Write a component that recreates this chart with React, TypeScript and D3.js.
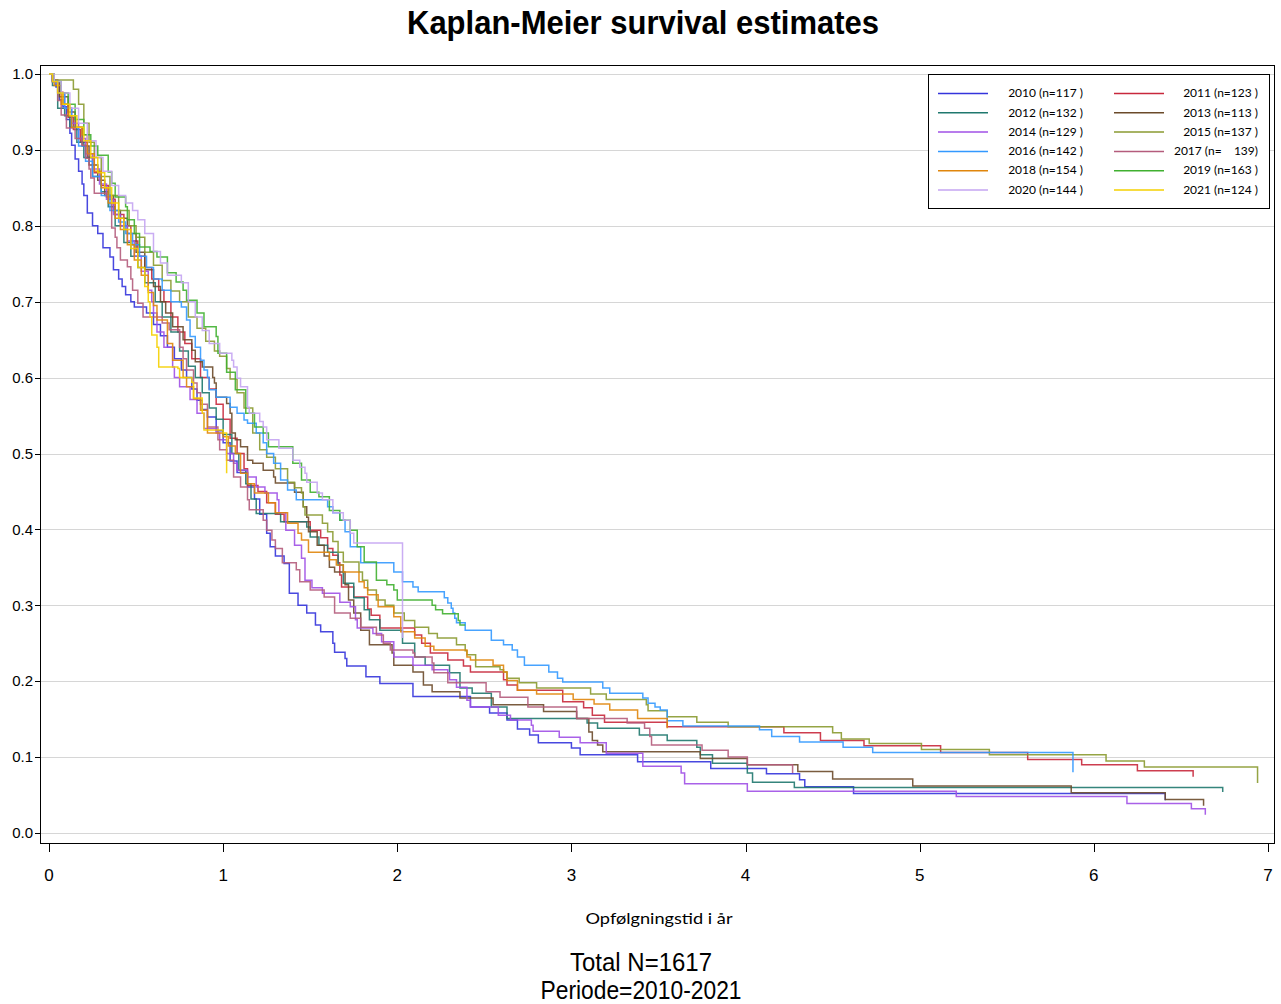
import React, { useEffect } from 'react';
import * as d3 from 'd3';

type P = [number, number];

const years = ['2010', '2011', '2012', '2013', '2014', '2015', '2016', '2017', '2018', '2019', '2020', '2021'];
const legendLabels = ['2010 (n=117 )', '2011 (n=123 )', '2012 (n=132 )', '2013 (n=113 )', '2014 (n=129 )', '2015 (n=137 )', '2016 (n=142 )', '2017 (n=    139)', '2018 (n=154 )', '2019 (n=163 )', '2020 (n=144 )', '2021 (n=124 )'];
const yTicks = [0, 0.1, 0.2, 0.3, 0.4, 0.5, 0.6, 0.7, 0.8, 0.9, 1.0];
const xTicks = [0, 1, 2, 3, 4, 5, 6, 7];

const s2010: P[] = [[0,1],[0.02,0.991],[0.04,0.983],[0.06,0.966],[0.08,0.957],[0.10,0.94],[0.12,0.922],[0.13,0.906],[0.15,0.888],[0.17,0.872],[0.19,0.855],[0.20,0.84],[0.22,0.817],[0.25,0.80],[0.28,0.79],[0.31,0.771],[0.35,0.759],[0.37,0.742],[0.40,0.73],[0.42,0.72],[0.44,0.709],[0.47,0.70],[0.49,0.693],[0.56,0.685],[0.60,0.67],[0.64,0.655],[0.68,0.64],[0.72,0.625],[0.76,0.61],[0.79,0.60],[0.82,0.585],[0.85,0.57],[0.88,0.558],[0.91,0.548],[0.96,0.53],[1.0,0.514],[1.04,0.49],[1.08,0.475],[1.14,0.456],[1.18,0.44],[1.21,0.42],[1.25,0.395],[1.27,0.377],[1.30,0.365],[1.35,0.355],[1.38,0.316],[1.43,0.30],[1.48,0.29],[1.53,0.274],[1.56,0.265],[1.63,0.25],[1.64,0.238],[1.70,0.23],[1.71,0.22],[1.82,0.206],[1.90,0.197],[2.09,0.18],[2.42,0.166],[2.53,0.158],[2.63,0.149],[2.69,0.137],[2.76,0.129],[2.81,0.119],[3.0,0.112],[3.05,0.103],[3.38,0.094],[3.80,0.085],[4.12,0.078],[4.31,0.07],[4.34,0.061],[4.62,0.052],[6.41,0.043]];
const s2011: P[] = [[0,1],[0.02,0.992],[0.05,0.976],[0.08,0.96],[0.11,0.943],[0.14,0.927],[0.18,0.91],[0.22,0.89],[0.26,0.87],[0.30,0.853],[0.34,0.835],[0.38,0.815],[0.43,0.80],[0.47,0.78],[0.51,0.76],[0.55,0.745],[0.59,0.73],[0.63,0.715],[0.66,0.70],[0.70,0.68],[0.74,0.66],[0.78,0.645],[0.82,0.625],[0.87,0.60],[0.92,0.585],[0.96,0.565],[1.0,0.545],[1.04,0.52],[1.08,0.50],[1.12,0.48],[1.14,0.458],[1.20,0.45],[1.25,0.435],[1.30,0.42],[1.35,0.41],[1.50,0.399],[1.56,0.389],[1.60,0.375],[1.63,0.366],[1.66,0.356],[1.67,0.34],[1.68,0.324],[1.75,0.311],[1.83,0.295],[1.85,0.287],[1.90,0.27],[2.10,0.261],[2.14,0.25],[2.19,0.237],[2.29,0.228],[2.38,0.22],[2.42,0.212],[2.61,0.202],[2.63,0.195],[2.69,0.188],[2.95,0.173],[3.07,0.165],[3.12,0.155],[3.19,0.146],[3.55,0.140],[4.22,0.132],[4.43,0.122],[4.68,0.115],[5.12,0.106],[5.62,0.097],[5.93,0.09],[6.25,0.082],[6.57,0.074]];
const s2012: P[] = [[0,1],[0.02,0.985],[0.05,0.955],[0.09,0.945],[0.12,0.93],[0.16,0.91],[0.20,0.89],[0.25,0.865],[0.30,0.845],[0.34,0.825],[0.38,0.80],[0.43,0.778],[0.47,0.76],[0.51,0.745],[0.55,0.725],[0.61,0.70],[0.65,0.68],[0.70,0.66],[0.75,0.635],[0.80,0.615],[0.84,0.60],[0.88,0.58],[0.92,0.56],[0.96,0.545],[1.00,0.525],[1.05,0.50],[1.09,0.478],[1.13,0.46],[1.16,0.44],[1.19,0.421],[1.33,0.41],[1.48,0.403],[1.50,0.39],[1.55,0.379],[1.60,0.37],[1.66,0.353],[1.69,0.329],[1.75,0.31],[1.81,0.294],[1.84,0.281],[1.90,0.267],[2.03,0.25],[2.10,0.232],[2.16,0.221],[2.30,0.211],[2.36,0.191],[2.43,0.184],[2.54,0.166],[2.63,0.151],[3.09,0.145],[3.15,0.138],[3.39,0.129],[3.55,0.122],[3.72,0.113],[3.74,0.103],[3.81,0.092],[4.01,0.079],[4.04,0.067],[4.28,0.060],[6.74,0.054]];
const s2013: P[] = [[0,1],[0.02,0.99],[0.06,0.97],[0.11,0.95],[0.15,0.93],[0.19,0.905],[0.23,0.88],[0.28,0.86],[0.32,0.84],[0.37,0.82],[0.41,0.81],[0.45,0.79],[0.50,0.765],[0.55,0.742],[0.60,0.72],[0.64,0.70],[0.67,0.685],[0.71,0.667],[0.77,0.65],[0.82,0.636],[0.84,0.621],[0.88,0.614],[0.94,0.60],[0.95,0.593],[0.96,0.574],[1.02,0.566],[1.04,0.553],[1.05,0.527],[1.07,0.518],[1.10,0.509],[1.14,0.491],[1.17,0.487],[1.23,0.478],[1.29,0.469],[1.30,0.461],[1.41,0.449],[1.46,0.43],[1.48,0.416],[1.49,0.397],[1.54,0.379],[1.58,0.365],[1.61,0.350],[1.64,0.344],[1.70,0.327],[1.72,0.307],[1.75,0.29],[1.79,0.267],[1.84,0.248],[1.97,0.237],[1.98,0.221],[2.09,0.212],[2.15,0.195],[2.20,0.186],[2.36,0.178],[2.55,0.169],[2.84,0.160],[3.03,0.151],[3.10,0.133],[3.12,0.122],[3.15,0.116],[3.18,0.107],[3.74,0.098],[4.01,0.09],[4.30,0.081],[4.50,0.071],[4.96,0.062],[5.87,0.053],[6.41,0.044],[6.63,0.036]];
const s2014: P[] = [[0,1],[0.02,0.99],[0.05,0.975],[0.09,0.955],[0.13,0.935],[0.17,0.915],[0.21,0.895],[0.25,0.875],[0.29,0.855],[0.33,0.835],[0.37,0.815],[0.41,0.80],[0.45,0.78],[0.49,0.76],[0.53,0.74],[0.57,0.715],[0.59,0.70],[0.60,0.685],[0.62,0.66],[0.66,0.64],[0.71,0.614],[0.72,0.60],[0.75,0.588],[0.81,0.571],[0.85,0.553],[0.89,0.533],[0.96,0.527],[0.98,0.518],[1.02,0.50],[1.06,0.487],[1.08,0.478],[1.14,0.469],[1.19,0.456],[1.24,0.448],[1.31,0.439],[1.32,0.422],[1.36,0.399],[1.41,0.379],[1.45,0.362],[1.47,0.333],[1.51,0.323],[1.57,0.316],[1.67,0.304],[1.73,0.298],[1.76,0.281],[1.77,0.27],[1.86,0.263],[1.91,0.252],[1.98,0.232],[2.09,0.221],[2.20,0.215],[2.29,0.211],[2.30,0.202],[2.34,0.192],[2.40,0.175],[2.42,0.166],[2.58,0.155],[2.65,0.149],[2.77,0.142],[2.78,0.134],[2.93,0.126],[3.05,0.119],[3.20,0.105],[3.41,0.088],[3.63,0.079],[3.65,0.065],[4.01,0.055],[5.21,0.048],[6.19,0.039],[6.56,0.032],[6.64,0.024]];
const s2015: P[] = [[0,1],[0.03,0.992],[0.14,0.98],[0.17,0.96],[0.20,0.935],[0.23,0.91],[0.26,0.89],[0.30,0.865],[0.35,0.84],[0.40,0.82],[0.46,0.80],[0.50,0.785],[0.55,0.765],[0.60,0.748],[0.65,0.728],[0.70,0.714],[0.75,0.70],[0.80,0.68],[0.85,0.665],[0.90,0.648],[0.95,0.635],[0.98,0.628],[1.02,0.612],[1.04,0.598],[1.08,0.58],[1.12,0.56],[1.17,0.527],[1.21,0.505],[1.25,0.495],[1.30,0.48],[1.37,0.462],[1.41,0.455],[1.45,0.448],[1.46,0.43],[1.47,0.419],[1.57,0.408],[1.60,0.397],[1.63,0.384],[1.66,0.37],[1.69,0.357],[1.78,0.344],[1.80,0.333],[1.83,0.32],[1.88,0.307],[1.93,0.30],[1.98,0.29],[2.04,0.28],[2.10,0.271],[2.18,0.263],[2.23,0.257],[2.34,0.248],[2.39,0.24],[2.40,0.235],[2.45,0.219],[2.59,0.215],[2.61,0.212],[2.63,0.204],[2.70,0.198],[2.80,0.191],[3.11,0.183],[3.20,0.176],[3.43,0.169],[3.44,0.161],[3.55,0.153],[3.72,0.146],[3.90,0.140],[4.50,0.132],[4.55,0.124],[4.71,0.118],[5.01,0.110],[5.40,0.103],[6.07,0.095],[6.29,0.087],[6.94,0.066]];
const s2016: P[] = [[0,1],[0.02,0.99],[0.05,0.975],[0.09,0.955],[0.13,0.93],[0.17,0.905],[0.21,0.885],[0.25,0.865],[0.30,0.84],[0.35,0.82],[0.40,0.805],[0.44,0.79],[0.48,0.775],[0.52,0.76],[0.56,0.745],[0.60,0.73],[0.65,0.715],[0.70,0.70],[0.76,0.693],[0.79,0.676],[0.81,0.654],[0.84,0.64],[0.87,0.623],[0.89,0.61],[0.91,0.60],[0.92,0.584],[0.96,0.574],[1.04,0.561],[1.08,0.553],[1.12,0.544],[1.14,0.54],[1.19,0.527],[1.23,0.514],[1.25,0.50],[1.29,0.487],[1.33,0.465],[1.37,0.452],[1.42,0.439],[1.60,0.43],[1.63,0.422],[1.67,0.412],[1.70,0.397],[1.73,0.377],[1.79,0.356],[1.98,0.344],[2.03,0.331],[2.09,0.324],[2.12,0.318],[2.27,0.31],[2.29,0.303],[2.31,0.296],[2.32,0.29],[2.33,0.283],[2.34,0.277],[2.39,0.267],[2.54,0.254],[2.61,0.248],[2.66,0.241],[2.69,0.232],[2.73,0.221],[2.87,0.212],[2.92,0.204],[2.95,0.199],[3.18,0.191],[3.22,0.184],[3.41,0.178],[3.44,0.171],[3.48,0.166],[3.51,0.162],[3.55,0.148],[3.64,0.141],[4.08,0.136],[4.15,0.127],[4.31,0.12],[4.56,0.113],[4.73,0.106],[5.88,0.080]];
const s2017: P[] = [[0,1],[0.02,0.99],[0.05,0.965],[0.07,0.946],[0.10,0.929],[0.15,0.915],[0.19,0.906],[0.21,0.889],[0.23,0.875],[0.24,0.863],[0.26,0.843],[0.33,0.838],[0.36,0.797],[0.38,0.785],[0.39,0.771],[0.41,0.755],[0.45,0.746],[0.47,0.73],[0.48,0.715],[0.51,0.698],[0.54,0.68],[0.65,0.672],[0.69,0.663],[0.75,0.64],[0.77,0.625],[0.79,0.61],[0.83,0.593],[0.85,0.58],[0.87,0.565],[0.91,0.535],[0.97,0.518],[0.98,0.505],[1.02,0.491],[1.06,0.469],[1.10,0.456],[1.14,0.439],[1.15,0.426],[1.23,0.412],[1.25,0.399],[1.28,0.386],[1.30,0.375],[1.34,0.356],[1.42,0.347],[1.44,0.331],[1.50,0.320],[1.58,0.311],[1.64,0.29],[1.73,0.283],[1.79,0.271],[1.88,0.261],[1.92,0.25],[1.96,0.241],[2.09,0.237],[2.10,0.232],[2.20,0.224],[2.21,0.211],[2.29,0.198],[2.51,0.186],[2.59,0.179],[2.75,0.166],[3.03,0.151],[3.32,0.145],[3.42,0.138],[3.45,0.127],[3.46,0.116],[3.75,0.109],[3.90,0.10],[4.01,0.09],[4.27,0.079]];
const s2018: P[] = [[0,1],[0.03,0.985],[0.07,0.96],[0.11,0.945],[0.13,0.93],[0.19,0.92],[0.22,0.895],[0.26,0.872],[0.30,0.85],[0.34,0.83],[0.38,0.81],[0.41,0.795],[0.45,0.775],[0.49,0.755],[0.53,0.735],[0.57,0.712],[0.60,0.695],[0.62,0.676],[0.68,0.645],[0.71,0.623],[0.77,0.60],[0.79,0.588],[0.83,0.572],[0.87,0.557],[0.91,0.527],[1.0,0.522],[1.03,0.51],[1.07,0.50],[1.10,0.474],[1.14,0.46],[1.18,0.448],[1.26,0.435],[1.30,0.422],[1.37,0.408],[1.43,0.395],[1.45,0.386],[1.49,0.37],[1.61,0.36],[1.65,0.353],[1.69,0.344],[1.78,0.331],[1.81,0.323],[1.83,0.314],[1.89,0.298],[1.98,0.285],[2.02,0.265],[2.10,0.257],[2.16,0.246],[2.21,0.241],[2.40,0.232],[2.42,0.228],[2.55,0.221],[2.61,0.212],[2.63,0.201],[2.69,0.188],[2.80,0.183],[3.01,0.176],[3.13,0.17],[3.22,0.162],[3.38,0.151],[3.55,0.138]];
const s2019: P[] = [[0,1],[0.03,0.99],[0.07,0.975],[0.11,0.96],[0.15,0.94],[0.20,0.92],[0.24,0.905],[0.28,0.893],[0.34,0.871],[0.36,0.856],[0.38,0.838],[0.44,0.825],[0.45,0.808],[0.49,0.79],[0.52,0.772],[0.58,0.766],[0.62,0.759],[0.68,0.738],[0.73,0.726],[0.77,0.715],[0.79,0.702],[0.85,0.685],[0.89,0.667],[0.96,0.654],[0.97,0.632],[1.02,0.607],[1.07,0.584],[1.13,0.553],[1.18,0.535],[1.23,0.527],[1.26,0.509],[1.40,0.487],[1.45,0.465],[1.50,0.449],[1.55,0.443],[1.61,0.425],[1.67,0.412],[1.73,0.399],[1.77,0.377],[1.81,0.357],[1.88,0.333],[1.94,0.327],[1.98,0.32],[2.0,0.307],[2.20,0.30],[2.22,0.294],[2.26,0.289],[2.35,0.28],[2.36,0.274],[2.39,0.274]];
const s2020: P[] = [[0,1],[0.03,0.99],[0.07,0.975],[0.12,0.955],[0.17,0.935],[0.22,0.912],[0.27,0.89],[0.31,0.872],[0.36,0.853],[0.40,0.84],[0.44,0.83],[0.48,0.82],[0.51,0.808],[0.55,0.79],[0.60,0.766],[0.64,0.751],[0.68,0.735],[0.76,0.725],[0.80,0.70],[0.84,0.68],[0.88,0.662],[0.92,0.645],[0.98,0.632],[1.05,0.623],[1.06,0.614],[1.08,0.599],[1.10,0.588],[1.14,0.561],[1.15,0.553],[1.21,0.542],[1.23,0.535],[1.25,0.518],[1.32,0.507],[1.40,0.491],[1.44,0.482],[1.47,0.474],[1.48,0.462],[1.54,0.448],[1.57,0.439],[1.63,0.422],[1.69,0.412],[1.73,0.395],[1.75,0.382],[2.03,0.257]];
const s2021: P[] = [[0,1],[0.02,0.99],[0.05,0.975],[0.08,0.96],[0.12,0.945],[0.16,0.93],[0.20,0.912],[0.24,0.89],[0.28,0.87],[0.32,0.85],[0.36,0.83],[0.40,0.81],[0.43,0.795],[0.47,0.77],[0.51,0.745],[0.55,0.72],[0.57,0.70],[0.58,0.68],[0.59,0.656],[0.62,0.64],[0.63,0.614],[0.74,0.612],[0.75,0.60],[0.82,0.594],[0.83,0.573],[0.88,0.553],[0.89,0.531],[1.0,0.527],[1.02,0.474]];

const seriesData: P[][] = [s2010, s2011, s2012, s2013, s2014, s2015, s2016, s2017, s2018, s2019, s2020, s2021];
const colors = ['#3434dc', '#c8283c', '#1f786e', '#6b4a2a', '#a050e6', '#8a9a30', '#3399ff', '#b45c7c', '#e0860c', '#40b030', '#c4a4f2', '#f5d000'];

const W = 1281;
const H = 1004;
const frame = { left: 40, top: 65, right: 1274, bottom: 843 };

export default function App() {
  useEffect(() => {
    document.body.style.margin = '0';
    document.body.style.overflow = 'hidden';
  }, []);

  const x = d3.scaleLinear().domain([0, 7]).range([49, 1268]);
  const y = d3.scaleLinear().domain([0, 1]).range([833, 74]);
  const line = d3.line<P>().x(d => x(d[0])).y(d => y(d[1])).curve(d3.curveStepAfter);

  const sans = '"Liberation Sans", Arial, sans-serif';
  const narrow = '"Liberation Sans Narrow", "Liberation Sans", Arial, sans-serif';
  const humanist = 'Lato, "Open Sans", sans-serif';

  return (
    <svg width={W} height={H} style={{ position: 'absolute', left: 0, top: 0, background: '#fff' }}>
      <rect x={0} y={0} width={W} height={H} fill="#fff" />
      <text x={643} y={34} textAnchor="middle" fontFamily={sans} fontWeight="bold" fontSize={33} textLength={472} lengthAdjust="spacingAndGlyphs" fill="#000">Kaplan-Meier survival estimates</text>

      {yTicks.map(t => (
        <line key={'g' + t} x1={frame.left} x2={frame.right} y1={Math.round(y(t)) + 0.5} y2={Math.round(y(t)) + 0.5} stroke="#d6d6d6" strokeWidth={1} />
      ))}

      {seriesData.map((s, i) => (
        <path key={years[i]} d={line(s) || ''} fill="none" stroke={colors[i]} strokeWidth={1.5} strokeOpacity={0.9} />
      ))}

      <rect x={frame.left + 0.5} y={frame.top + 0.5} width={frame.right - frame.left} height={frame.bottom - frame.top} fill="none" stroke="#000" strokeWidth={1} />

      {yTicks.map(t => (
        <g key={'y' + t}>
          <line x1={35} x2={frame.left} y1={Math.round(y(t)) + 0.5} y2={Math.round(y(t)) + 0.5} stroke="#000" />
          <text x={33} y={y(t)} dy="0.35em" textAnchor="end" fontFamily={sans} fontSize={15} fill="#000">{t.toFixed(1)}</text>
        </g>
      ))}

      {xTicks.map(t => (
        <g key={'x' + t}>
          <line x1={Math.round(x(t)) + 0.5} x2={Math.round(x(t)) + 0.5} y1={frame.bottom} y2={852} stroke="#000" />
          <text x={x(t)} y={881} textAnchor="middle" fontFamily={narrow} fontSize={17} fill="#000">{t}</text>
        </g>
      ))}

      <text x={659} y={924} textAnchor="middle" fontFamily={humanist} fontSize={16} textLength={147} lengthAdjust="spacingAndGlyphs" fill="#000">Opfølgningstid i år</text>

      <text x={641} y={971} textAnchor="middle" fontFamily={sans} fontSize={26} textLength={142} lengthAdjust="spacingAndGlyphs" fill="#000">Total N=1617</text>
      <text x={641} y={999} textAnchor="middle" fontFamily={sans} fontSize={26} textLength={201} lengthAdjust="spacingAndGlyphs" fill="#000">Periode=2010-2021</text>

      <rect x={928.5} y={74.5} width={341} height={134} fill="#fff" stroke="#000" strokeWidth={1} />
      {legendLabels.map((lab, i) => {
        const col = i % 2;
        const row = Math.floor(i / 2);
        const ly = 93 + row * 19.3;
        const lx = col === 0 ? 938 : 1114;
        const tx = col === 0 ? 1083 : 1258;
        return (
          <g key={'l' + i}>
            <line x1={lx} x2={lx + 50} y1={ly + 0.5} y2={ly + 0.5} stroke={colors[i]} strokeWidth={1.5} />
            <text x={tx} y={ly} dy="0.35em" textAnchor="end" fontFamily={humanist} fontSize={12} fill="#000" style={{ whiteSpace: 'pre' }}>{lab}</text>
          </g>
        );
      })}
    </svg>
  );
}
